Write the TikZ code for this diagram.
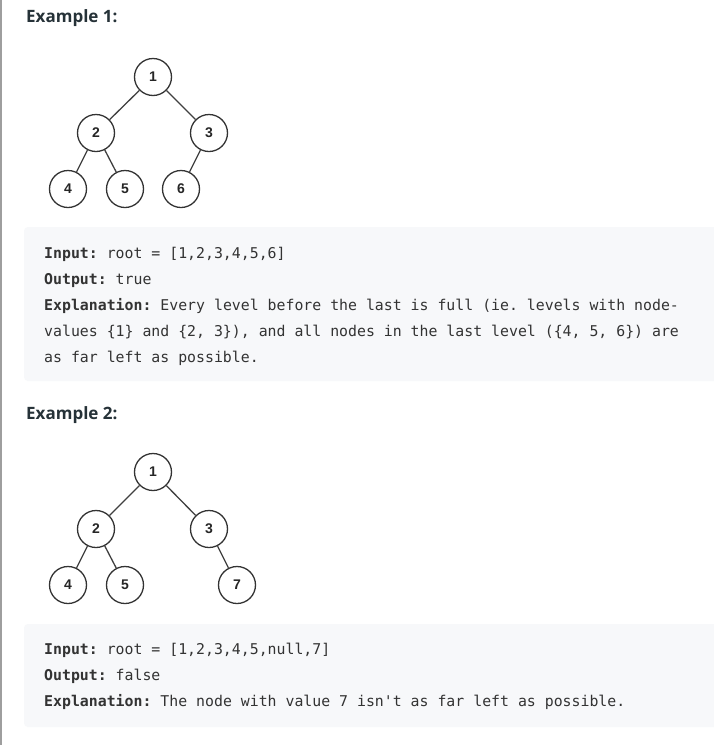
\documentclass[tikz,border=0pt]{standalone}
\usepackage{fontspec}
\setmainfont{Open Sans}
\newfontfamily\headfont{Open Sans}
\newfontfamily\codefont{DejaVu Sans Mono}[WordSpace={1,0,0},PunctuationSpace=WordSpace]
\newfontfamily\digitfont{Liberation Sans}
\definecolor{boxbg}{HTML}{F7F8FA}
\definecolor{txt}{HTML}{333333}
\definecolor{head}{HTML}{263238}
\definecolor{edge}{HTML}{9E9E9E}
\frenchspacing
\begin{document}
\begin{tikzpicture}[x=1pt,y=-1pt,
  tnode/.style={circle,draw=black!80,line width=1.3pt,minimum size=37pt,inner sep=0pt,fill=white,font=\digitfont\fontsize{14}{14}\selectfont\bfseries,text=black!85},
  tedge/.style={draw=black!75,line width=1.3pt},
  heading/.style={anchor=base west,inner sep=0pt,font=\headfont\fontsize{17}{17}\selectfont\bfseries,text=head},
  codeline/.style={anchor=base west,inner sep=0pt,font=\codefont\fontsize{14.85}{14.85}\selectfont\frenchspacing,text=txt},
  codebox/.style={fill=boxbg,rounded corners=4pt,draw=none}]
\useasboundingbox (0,0) rectangle (714,745);
\fill[white] (0,0) rectangle (714,745);
\fill[edge] (0,0) rectangle (1.5,745);
% Example 1
\node[heading] (h1) at (26,22) {Example 1:};
\node[tnode] (a1) at (153,77) {1};
\node[tnode] (a2) at (96,133) {2};
\node[tnode] (a3) at (209,133) {3};
\node[tnode] (a4) at (68,189) {4};
\node[tnode] (a5) at (125,189) {5};
\node[tnode] (a6) at (181,189) {6};
\draw[tedge] (a1) -- (a2);
\draw[tedge] (a1) -- (a3);
\draw[tedge] (a2) -- (a4);
\draw[tedge] (a2) -- (a5);
\draw[tedge] (a3) -- (a6);
\path[codebox] (24,227) rectangle (718,381);
\node[codeline] (i1) at (44,258) {\textbf{Input:} root = [1,2,3,4,5,6]};
\node[codeline] (o1) at (44,284) {\textbf{Output:} true};
\node[codeline] (e1) at (44,310) {\textbf{Explanation:} Every level before the last is full (ie. levels with node-};
\node[codeline] (e1b) at (44,336) {values \{1\} and \{2, 3\}), and all nodes in the last level (\{4, 5, 6\}) are};
\node[codeline] (e1c) at (44,362) {as far left as possible.};
% Example 2
\node[heading] (h2) at (26,419) {Example 2:};
\node[tnode] (b1) at (153,472) {1};
\node[tnode] (b2) at (96,529) {2};
\node[tnode] (b3) at (209,529) {3};
\node[tnode] (b4) at (68,585) {4};
\node[tnode] (b5) at (125,585) {5};
\node[tnode] (b7) at (237,585) {7};
\draw[tedge] (b1) -- (b2);
\draw[tedge] (b1) -- (b3);
\draw[tedge] (b2) -- (b4);
\draw[tedge] (b2) -- (b5);
\draw[tedge] (b3) -- (b7);
\path[codebox] (24,624) rectangle (718,727);
\node[codeline] (i2) at (44,654) {\textbf{Input:} root = [1,2,3,4,5,null,7]};
\node[codeline] (o2) at (44,680) {\textbf{Output:} false};
\node[codeline] (e2) at (44,706) {\textbf{Explanation:} The node with value 7 isn't as far left as possible.};
\end{tikzpicture}
\end{document}
